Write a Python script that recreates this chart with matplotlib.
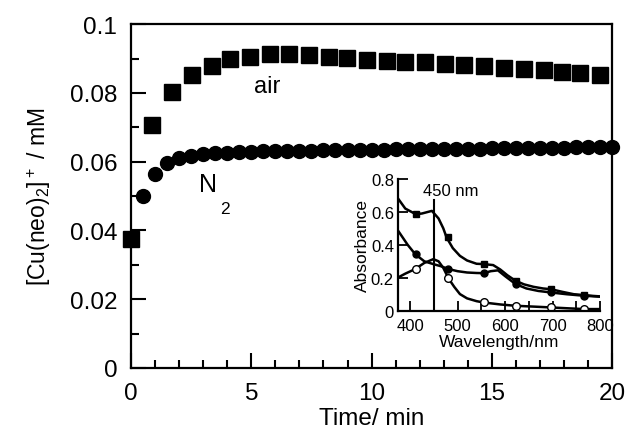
import matplotlib
matplotlib.use('Agg')
import matplotlib.pyplot as plt
from matplotlib.ticker import MultipleLocator, FormatStrFormatter

plt.rcParams['font.family'] = ['Liberation Sans', 'DejaVu Sans']
plt.rcParams['mathtext.default'] = 'regular'

# main panel: [Cu(neo)2]+ vs time, under air and under N2
t_air = [0, 0.86, 1.69, 2.52, 3.36, 4.12, 4.95, 5.78, 6.55, 7.38, 8.21, 8.97, 9.81,
         10.64, 11.40, 12.23, 13.06, 13.83, 14.66, 15.49, 16.33, 17.16, 17.92, 18.68, 19.51]
c_air = [0.0375, 0.0706, 0.0804, 0.0852, 0.0879, 0.0898, 0.0905, 0.0913, 0.0913, 0.0910,
         0.0906, 0.0901, 0.0895, 0.0894, 0.0891, 0.0889, 0.0884, 0.0881, 0.0879, 0.0874,
         0.0870, 0.0868, 0.0862, 0.0858, 0.0853]

t_n2 = [0.5, 1.0, 1.5, 2.0, 2.5, 3.0, 3.5, 4.0, 4.5, 5.0, 5.5, 6.0, 6.5, 7.0, 7.5, 8.0,
        8.5, 9.0, 9.5, 10.0, 10.5, 11.0, 11.5, 12.0, 12.5, 13.0, 13.5, 14.0, 14.5, 15.0,
        15.5, 16.0, 16.5, 17.0, 17.5, 18.0, 18.5, 19.0, 19.5, 20.0]
c_n2 = [0.0500, 0.0565, 0.0595, 0.0610, 0.0617, 0.0621, 0.0624, 0.0626, 0.0628, 0.0629,
        0.0630, 0.0631, 0.0631, 0.0632, 0.0632, 0.0633, 0.0633, 0.0634, 0.0634, 0.0635,
        0.0635, 0.0636, 0.0636, 0.0636, 0.0637, 0.0637, 0.0638, 0.0638, 0.0638, 0.0639,
        0.0639, 0.0640, 0.0640, 0.0640, 0.0641, 0.0641, 0.0642, 0.0642, 0.0643, 0.0644]

# inset: absorption spectra
wl_a = [375, 390, 412, 425, 446, 460, 470, 477, 490, 505, 520, 540, 555, 575, 590, 605,
        622, 640, 660, 680, 696, 720, 745, 766, 785, 800]
abs_a = [0.68, 0.62, 0.586, 0.59, 0.606, 0.56, 0.50, 0.444, 0.38, 0.333, 0.305, 0.285,
         0.283, 0.277, 0.25, 0.215, 0.182, 0.16, 0.145, 0.135, 0.131, 0.115, 0.10, 0.095,
         0.09, 0.087]
wl_b = [375, 395, 411, 430, 449, 465, 481, 500, 520, 540, 555, 570, 585, 600, 622, 645,
        670, 696, 730, 766, 800]
abs_b = [0.485, 0.40, 0.343, 0.30, 0.283, 0.27, 0.253, 0.24, 0.232, 0.229, 0.228, 0.24,
         0.245, 0.21, 0.162, 0.135, 0.12, 0.111, 0.10, 0.091, 0.085]
wl_c = [375, 390, 411, 430, 449, 460, 470, 481, 493, 505, 520, 540, 555, 590, 622, 660,
        696, 730, 766, 800]
abs_c = [0.202, 0.225, 0.253, 0.29, 0.313, 0.30, 0.26, 0.196, 0.145, 0.101, 0.075, 0.058,
         0.05, 0.038, 0.03, 0.025, 0.02, 0.015, 0.01, 0.01]
wl_mark = [412, 479, 555, 622, 696, 766]
mark_a = [0.586, 0.45, 0.283, 0.182, 0.131, 0.095]
mark_b = [0.343, 0.253, 0.228, 0.162, 0.111, 0.091]
mark_c = [0.253, 0.196, 0.05, 0.03, 0.02, 0.01]

fig = plt.figure(figsize=(6.33, 4.35), dpi=100)
ax = fig.add_axes([0.207, 0.152, 0.760, 0.790])
ax.plot(t_air, c_air, 's', color='black', ms=11.5, clip_on=False, zorder=3)
ax.plot(t_n2, c_n2, 'o', color='black', ms=10, clip_on=False, zorder=3)
ax.set_xlim(0, 20)
ax.set_ylim(0, 0.1)
ax.xaxis.set_major_locator(MultipleLocator(5))
ax.xaxis.set_minor_locator(MultipleLocator(1))
ax.yaxis.set_major_locator(MultipleLocator(0.02))
ax.yaxis.set_minor_locator(MultipleLocator(0.01))
ax.yaxis.set_major_formatter(FormatStrFormatter('%g'))
ax.tick_params(which='both', direction='in', width=1.5, labelsize=17.5, pad=10)
ax.tick_params(which='major', length=11)
ax.tick_params(which='minor', length=6)
for s in ax.spines.values():
    s.set_linewidth(1.6)
ax.set_xlabel('Time/ min', fontsize=17.5, labelpad=2)
ax.set_ylabel('[Cu(neo)$_2$]$^+$ / mM', fontsize=16.5, labelpad=12)
ax.text(5.65, 0.082, 'air', fontsize=17, ha='center', va='center')
ax.text(3.22, 0.0535, 'N', fontsize=18, ha='center', va='center')
ax.text(3.9, 0.0465, '2', fontsize=12.5, ha='center', va='center')

# inset
ax2 = fig.add_axes([0.629, 0.2834, 0.319, 0.303])
ax2.plot(wl_a, abs_a, '-', color='black', lw=1.8)
ax2.plot(wl_b, abs_b, '-', color='black', lw=1.8)
ax2.plot(wl_c, abs_c, '-', color='black', lw=1.8)
ax2.plot(wl_mark, mark_a, 's', color='black', ms=5)
ax2.plot(wl_mark, mark_b, 'o', color='black', ms=5)
ax2.plot(wl_mark, mark_c, 'o', mfc='white', mec='black', mew=1, ms=5.5)
ax2.plot([450, 450], [0, 0.67], color='black', lw=1.5)
ax2.text(485, 0.728, '450 nm', fontsize=12, ha='center', va='center')
ax2.set_xlim(375, 800)
ax2.set_ylim(0, 0.8)
ax2.spines['top'].set_visible(False)
ax2.spines['right'].set_visible(False)
for s in ['left', 'bottom']:
    ax2.spines[s].set_linewidth(1.6)
ax2.xaxis.set_major_locator(MultipleLocator(100))
ax2.xaxis.set_minor_locator(MultipleLocator(50))
ax2.yaxis.set_major_locator(MultipleLocator(0.2))
ax2.yaxis.set_major_formatter(FormatStrFormatter('%g'))
ax2.tick_params(which='both', direction='in', width=1.3, labelsize=12, pad=3)
ax2.tick_params(axis='x', which='both', pad=5)
ax2.tick_params(which='major', length=7)
ax2.tick_params(which='minor', length=7)
ax2.set_xlabel('Wavelength/nm', fontsize=12.5, labelpad=1)
ax2.set_ylabel('Absorbance', fontsize=12.5, labelpad=1)
ax2.patch.set_alpha(0)

fig.savefig('out.png', dpi=100)
